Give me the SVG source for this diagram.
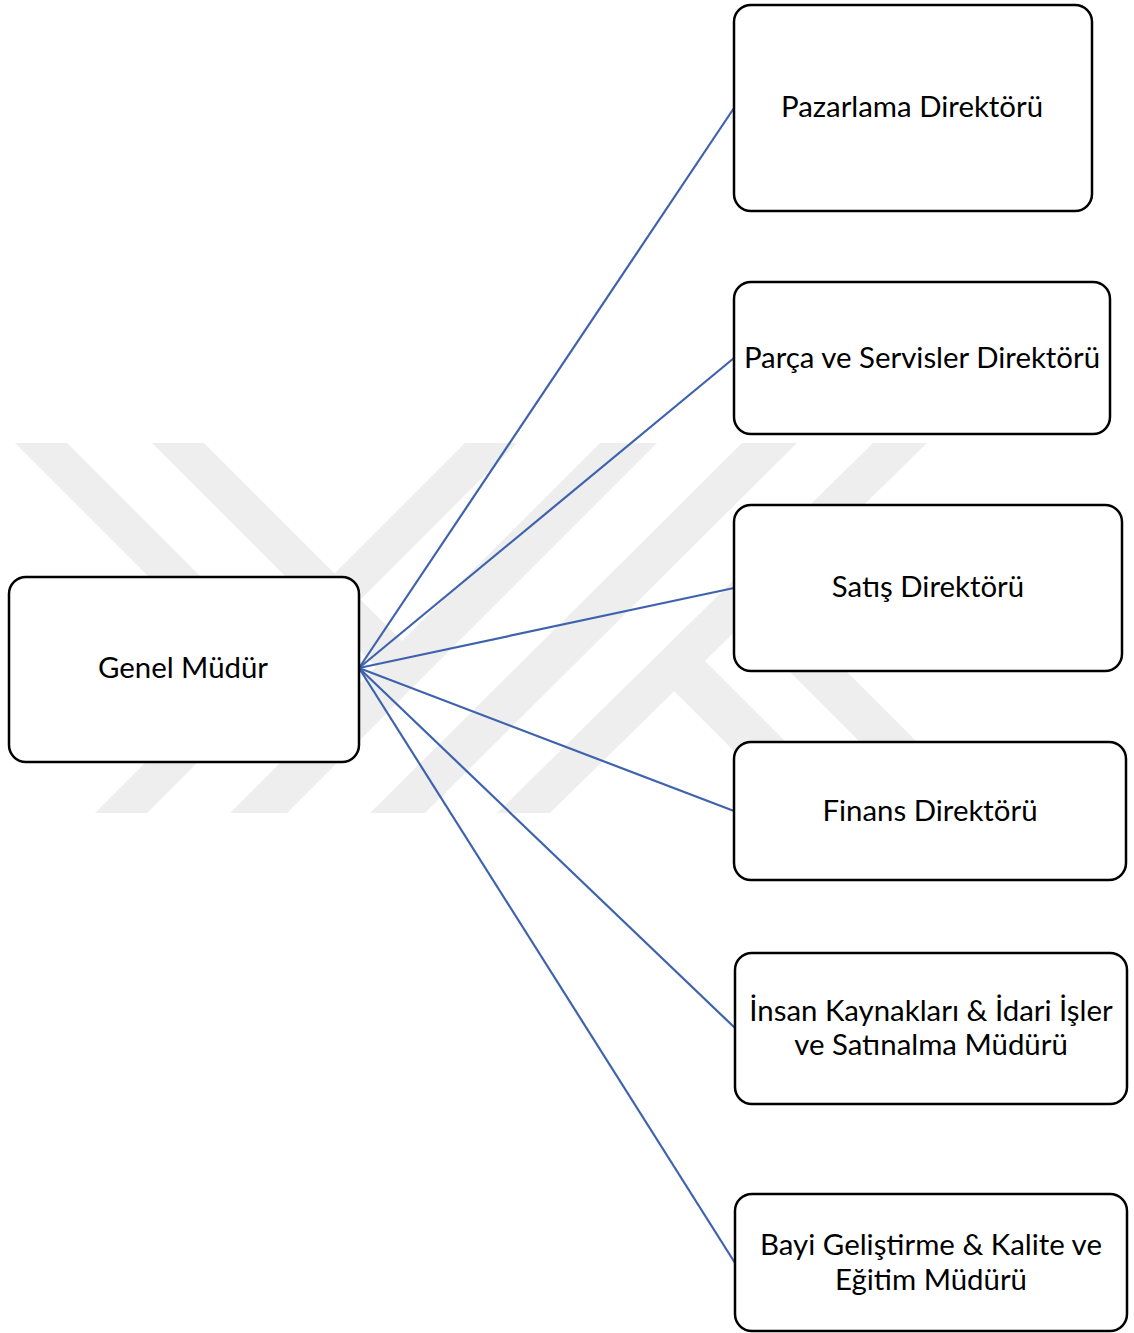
<svg xmlns="http://www.w3.org/2000/svg" width="1134" height="1333" viewBox="0 0 1134 1333">
  <style>
    .box { fill: #ffffff; stroke: #000000; stroke-width: 2.5; }
    .lbl { font-family: Lato, "Open Sans", "Liberation Sans", sans-serif; font-size: 29.4px; fill: #000000; text-anchor: middle; }
    .conn { stroke: #3E63AC; stroke-width: 2.2; fill: none; }
    .wm { fill: #eeeeee; }
  </style>
  <defs>
    <clipPath id="wmclip">
      <rect x="0" y="443" width="930" height="370"/>
    </clipPath>
  </defs>
  <rect x="0" y="0" width="1134" height="1333" fill="#ffffff"/>
  <g id="watermark" clip-path="url(#wmclip)">
    <polygon class="wm" points="95,813 147,813 517,443 465,443"/>
    <polygon class="wm" points="230,813 287,813 657,443 600,443"/>
    <polygon class="wm" points="370,813 425,813 797,443 742,443"/>
    <polygon class="wm" points="497,813 550,813 927,443 873,443"/>
    <polygon class="wm" points="15,443 67,443 292,668 240,668"/>
    <polygon class="wm" points="152,443 204,443 430,669 376,667"/>
    <polygon class="wm" points="650,667 681,637 857,813 796,813"/>
    <polygon class="wm" points="728,610 755,580 988,813 931,813"/>
  </g>
  <g id="connectors">
    <line class="conn" x1="359" y1="668" x2="734" y2="108"/>
    <line class="conn" x1="359" y1="668" x2="734" y2="358"/>
    <line class="conn" x1="359" y1="668" x2="734" y2="588"/>
    <line class="conn" x1="359" y1="668" x2="734" y2="811"/>
    <line class="conn" x1="359" y1="668" x2="735" y2="1028"/>
    <line class="conn" x1="359" y1="668" x2="735" y2="1263"/>
  </g>
  <g id="genel-mudur">
    <rect class="box" x="9" y="577" width="350" height="185" rx="17"/>
    <text class="lbl" x="183" y="678">Genel Müdür</text>
  </g>
  <g id="pazarlama">
    <rect class="box" x="734" y="5" width="358" height="206" rx="17"/>
    <text class="lbl" x="912" y="117">Pazarlama Direktörü</text>
  </g>
  <g id="parca-servis">
    <rect class="box" x="734" y="282" width="376" height="152" rx="17"/>
    <text class="lbl" x="922" y="368">Parça ve Servisler Direktörü</text>
  </g>
  <g id="satis">
    <rect class="box" x="734" y="505" width="388" height="166" rx="17"/>
    <text class="lbl" x="928" y="597">Satış Direktörü</text>
  </g>
  <g id="finans">
    <rect class="box" x="734" y="742" width="392" height="138" rx="17"/>
    <text class="lbl" x="930" y="821">Finans Direktörü</text>
  </g>
  <g id="insan-kaynaklari">
    <rect class="box" x="735" y="953" width="392" height="151" rx="17"/>
    <text class="lbl" x="931" y="1021">İnsan Kaynakları &amp; İdari İşler</text>
    <text class="lbl" x="931" y="1055">ve Satınalma Müdürü</text>
  </g>
  <g id="bayi-gelistirme">
    <rect class="box" x="735" y="1194" width="392" height="137" rx="17"/>
    <text class="lbl" x="931" y="1255">Bayi Geliştirme &amp; Kalite ve</text>
    <text class="lbl" x="931" y="1290">Eğitim Müdürü</text>
  </g>
</svg>
